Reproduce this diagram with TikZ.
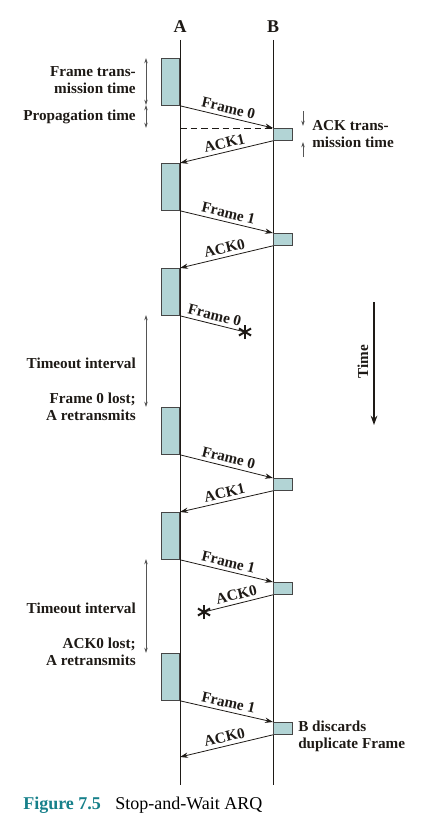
\documentclass[tikz,border=0pt]{standalone}
\usepackage{fontspec}
\setmainfont{Liberation Serif}
\usetikzlibrary{arrows.meta}
\definecolor{boxfill}{RGB}{178,212,213}
\definecolor{boxline}{RGB}{70,70,70}
\definecolor{ink}{RGB}{30,26,22}
\definecolor{teal}{RGB}{22,128,138}
\definecolor{dimgray}{RGB}{85,85,85}
\tikzset{
  abox/.style={draw=boxline, fill=boxfill, line width=0.6pt, inner sep=0pt,
    minimum width=13.5pt, minimum height=35.25pt, anchor=north east},
  bbox/.style={draw=boxline, fill=boxfill, line width=0.6pt, inner sep=0pt,
    minimum width=14.25pt, minimum height=9pt, anchor=north west},
  msg/.style={draw=ink, line width=0.6pt, -{Stealth[length=6pt,width=4pt]}},
  lost/.style={draw=ink, line width=0.6pt},
  lbl/.style={font=\bfseries\fontsize{11.4}{12.75}\selectfont, text=ink, sloped, above, midway, inner sep=2.5pt},
  side/.style={font=\bfseries\fontsize{11.4}{12.75}\selectfont, text=ink, inner sep=0pt},
  dimarr/.style={draw=dimgray, line width=0.5pt, {Stealth[length=4pt,width=2.6pt]}-{Stealth[length=4pt,width=2.6pt]}},
  onearr/.style={draw=dimgray, line width=0.5pt, -{Stealth[length=4pt,width=2.6pt]}},
  starline/.style={draw=ink, line width=1.5pt},
  axis/.style={draw=ink, line width=0.6pt}
}
\begin{document}
\begin{tikzpicture}[x=0.75pt, y=-0.75pt]
\useasboundingbox (0,0) rectangle (423,824);
% station labels and lines
\node[font=\bfseries\fontsize{13.5}{15}\selectfont, text=ink] (A) at (180,27) {A};
\node[font=\bfseries\fontsize{13.5}{15}\selectfont, text=ink] (B) at (273,27) {B};
\coordinate (At) at (180,40); \coordinate (Ab) at (180,785);
\coordinate (Bt) at (273,40); \coordinate (Bb) at (273,785);
\draw[axis] (At) -- (Ab);
\draw[axis] (Bt) -- (Bb);
% frames at A
\node[abox] (fa1) at (180,58) {};
\node[abox] (fa2) at (180,163) {};
\node[abox] (fa3) at (180,268) {};
\node[abox] (fa4) at (180,407) {};
\node[abox] (fa5) at (180,512) {};
\node[abox] (fa6) at (180,653) {};
% boxes at B
\node[bbox] (fb1) at (273,128) {};
\node[bbox] (fb2) at (273,233) {};
\node[bbox] (fb3) at (273,478) {};
\node[bbox] (fb4) at (273,582) {};
\node[bbox] (fb5) at (273,722) {};
% dashed reference
\coordinate (dA) at (180,128);
\draw[ink, line width=0.6pt, dash pattern=on 5pt off 3pt] (dA) -- (fb1.north west);
% messages
\draw[msg] (fa1.south east) -- (fb1.north west) node[lbl] {Frame 0};
\draw[msg] (fb1.south west) -- (fa2.north east) node[lbl] {ACK1};
\draw[msg] (fa2.south east) -- (fb2.north west) node[lbl] {Frame 1};
\draw[msg] (fb2.south west) -- (fa3.north east) node[lbl] {ACK0};
\coordinate (s1) at (245,332);
\draw[lost] (fa3.south east) -- (s1) node[lbl] {Frame 0};
\draw[msg] (fa4.south east) -- (fb3.north west) node[lbl] {Frame 0};
\draw[msg] (fb3.south west) -- (fa5.north east) node[lbl] {ACK1};
\draw[msg] (fa5.south east) -- (fb4.north west) node[lbl] {Frame 1};
\coordinate (s2) at (204,612);
\draw[lost] (fb4.south west) -- (s2) node[lbl] {ACK0};
\draw[msg] (fa6.south east) -- (fb5.north west) node[lbl] {Frame 1};
\coordinate (endA) at (180,757);
\draw[msg] (fb5.south west) -- (endA) node[lbl] {ACK0};
% asterisks
\foreach \s in {s1,s2}{
  \foreach \a in {90,30,150}{
    \draw[starline] ([shift={(\a:7)}]\s) -- ([shift={(\a+180:7)}]\s);
  }
}
% left dimension arrows
\coordinate (d1) at (146,58); \coordinate (d2) at (146,105); \coordinate (d3) at (146,128);
\draw[dimarr] (d1) -- (d2);
\draw[dimarr] (d2) -- (d3);
\coordinate (t1) at (146,315); \coordinate (t2) at (146,407);
\draw[dimarr] (t1) -- (t2);
\coordinate (t3) at (146,559); \coordinate (t4) at (146,653);
\draw[dimarr] (t3) -- (t4);
% ACK transmission arrows
\coordinate (k1) at (303,111); \coordinate (k2) at (303,126);
\coordinate (k3) at (303,157); \coordinate (k4) at (303,142);
\draw[onearr] (k1) -- (k2);
\draw[onearr] (k3) -- (k4);
% side texts
\node[side, anchor=east, align=right] (ft) at (136,80.5) {Frame trans-\\mission time};
\node[side, anchor=east] (pt) at (136,117) {Propagation time};
\node[side, anchor=east] (to1) at (136,363) {Timeout interval};
\node[side, anchor=east, align=right] (fl) at (136,407) {Frame 0 lost;\\A retransmits};
\node[side, anchor=east] (to2) at (136,608) {Timeout interval};
\node[side, anchor=east, align=right] (al) at (136,651.5) {ACK0 lost;\\A retransmits};
\node[side, anchor=west, align=left] (at) at (312,134.5) {ACK trans-\\mission time};
\node[side, anchor=west, align=left] (bd) at (298,736.5) {B discards\\duplicate Frame};
% time axis
\coordinate (tm1) at (374,302); \coordinate (tm2) at (374,425);
\draw[draw=ink, line width=1pt, -{Stealth[length=7pt,width=5pt]}] (tm1) -- (tm2);
\node[side, rotate=90] (time) at (363,362) {Time};
% caption
\node[anchor=base west, inner sep=0pt, font=\bfseries\fontsize{13.5}{15}\selectfont, text=teal] (fig) at (23,809) {Figure 7.5};
\node[anchor=base west, inner sep=0pt, font=\fontsize{13.5}{15}\selectfont, text=black] (cap) at (115,809) {Stop-and-Wait ARQ};
\end{tikzpicture}
\end{document}
